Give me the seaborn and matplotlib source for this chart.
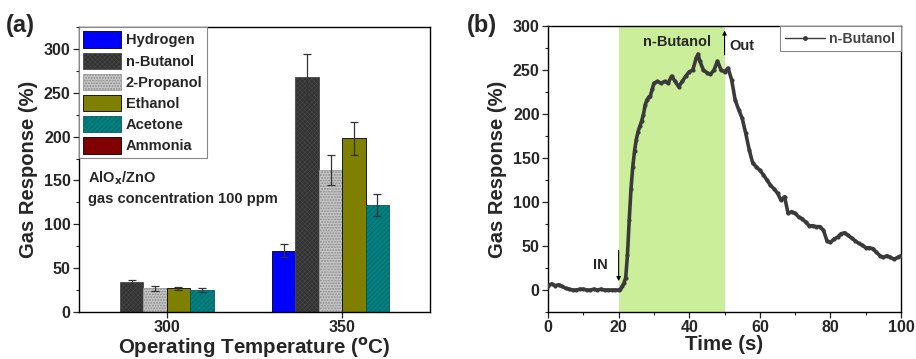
import numpy as np
import pandas as pd
import matplotlib
matplotlib.use("Agg")
import matplotlib.pyplot as plt
import seaborn as sns
from matplotlib.patches import Patch
from matplotlib.lines import Line2D
from matplotlib.ticker import MultipleLocator

# ---------------- data ----------------
temperatures = ["300", "350"]
gases = ["Hydrogen", "n-Butanol", "2-Propanol", "Ethanol", "Acetone", "Ammonia"]
resp_300 = [0, 34, 27, 27, 25, 0]
resp_350 = [70, 268, 162, 198, 122, 0]
err_300 = [0, 3, 3, 2, 2, 0]
err_350 = [7, 26, 17, 19, 12, 0]

time_s = [0, 1, 2, 3, 4, 5, 6, 7, 8, 9, 10, 11, 12, 13, 14, 15, 16, 17, 18, 19, 20,
          20.5, 21, 21.5, 22, 22.5, 23, 23.5, 24, 24.5, 25, 25.5, 26, 26.5, 27, 27.5,
          28, 28.5, 29, 29.5, 30, 31, 32, 33, 34, 35, 36, 37, 38, 39, 40, 41, 42, 42.5,
          43, 44, 45, 46, 47, 48, 49, 50, 51, 52, 53, 54, 55, 56, 57, 58, 59, 60,
          61, 62, 63, 64, 65, 66, 67, 68, 69, 70, 71, 72, 73, 74, 75, 76, 77, 78, 79,
          80, 81, 82, 83, 84, 85, 86, 87, 88, 89, 90, 91, 92, 93, 94, 95, 96, 97, 98,
          99, 100]
response = [5, 7, 5, 6, 4, 2, 1, 0, 0, 1, 1, 0, 0, 1, 0, 1, 0, 0, 0, 0, 0,
            1, 4, 8, 14, 40, 80, 115, 140, 158, 171, 180, 186, 192, 199, 210,
            216, 219, 221, 228, 235, 237, 235, 237, 235, 243, 237, 231, 237, 243, 248, 250, 264, 268,
            260, 250, 247, 245, 250, 260, 250, 248, 252, 239, 216, 205, 195, 178, 159, 144, 140, 136,
            131, 125, 119, 115, 110, 102, 106, 87, 89, 87, 83, 81, 77, 73, 73, 72, 72, 68, 56,
            54, 58, 60, 64, 65, 62, 59, 56, 53, 51, 48, 48, 47, 43, 39, 37, 39, 37, 35,
            37, 39]

colors = ["#0000FF", "#333333", "#C4C4C4", "#808000", "#008080", "#800000"]
hatches = [None, "xxxxxxx", "oooooo", None, "///////", None]
hatch_edge = ["black", "#4a4a4a", "#9a9a9a", "black", "#0a5a5a", "black"]

df = pd.DataFrame({
    "Temperature": np.repeat(temperatures, len(gases)),
    "Gas": gases * 2,
    "Response": resp_300 + resp_350,
    "Err": err_300 + err_350,
})

# ---------------- style ----------------
sns.set_theme(style="ticks")
plt.rcParams["font.family"] = ["Liberation Sans", "DejaVu Sans"]
plt.rcParams["font.weight"] = "bold"
plt.rcParams["axes.labelweight"] = "bold"
plt.rcParams["hatch.linewidth"] = 0.35

fig = plt.figure(figsize=(9.16, 3.59), dpi=100)
ax1 = fig.add_axes([0.0862, 0.1309, 0.3832, 0.7939])
ax2 = fig.add_axes([0.5983, 0.1309, 0.3854, 0.7967])

# ---------------- panel (a) ----------------
sns.barplot(data=df, x="Temperature", y="Response", hue="Gas", hue_order=gases,
            palette=colors, errorbar=None, width=0.8, saturation=1,
            edgecolor="black", linewidth=0.6, ax=ax1, legend=False)

bar_conts = list(ax1.containers)[:len(gases)]
for i, cont in enumerate(bar_conts):
    errs = [err_300[i], err_350[i]]
    vals = [resp_300[i], resp_350[i]]
    xs = []
    for bar in cont:
        xs.append(bar.get_x() + bar.get_width() / 2)
        if hatches[i]:
            bar.set_hatch(hatches[i])
            bar.set_edgecolor(hatch_edge[i])
    for x, v, e in zip(xs, vals, errs):
        if e > 0:
            ax1.errorbar(x, v, yerr=e, color="#333333", capsize=3, elinewidth=0.9,
                         capthick=0.9, fmt="none")

ax1.set_xlim(-0.5, 1.5)
ax1.set_ylim(0, 325)
ax1.yaxis.set_major_locator(MultipleLocator(50))
ax1.yaxis.set_minor_locator(MultipleLocator(25))
ax1.set_xlabel("Operating Temperature ($^{\\mathbf{o}}$C)", fontsize=14.8, labelpad=0)
ax1.set_ylabel("Gas Response (%)", fontsize=14.5, labelpad=4)
ax1.tick_params(axis="both", labelsize=11.5, direction="out", length=4, width=0.9, pad=2)
ax1.tick_params(axis="y", which="minor", length=2.5, width=0.8)
for lbl in ax1.get_xticklabels() + ax1.get_yticklabels():
    lbl.set_fontweight("bold")
for sp in ax1.spines.values():
    sp.set_visible(True)
    sp.set_linewidth(1.0)
    sp.set_color("black")

handles = []
for i, g in enumerate(gases):
    handles.append(Patch(facecolor=colors[i], edgecolor=hatch_edge[i] if hatches[i] else "black",
                         hatch=hatches[i], linewidth=0.6, label=g))
leg1 = ax1.legend(handles=handles, loc="upper left", bbox_to_anchor=(0.0, 1.0),
                  prop={"size": 10.5, "weight": "bold"}, handlelength=2.6, handleheight=1.35,
                  handletextpad=0.3, labelspacing=0.33, borderpad=0.3, borderaxespad=0,
                  frameon=True, fancybox=False, edgecolor="#888888", framealpha=1)
leg1.get_frame().set_linewidth(0.8)

ax1.text(0.026, 153, "AlO$_\\mathbf{x}$/ZnO", fontsize=10.5, fontweight="bold",
         transform=ax1.get_yaxis_transform(), va="center", ha="left")
ax1.text(0.026, 129, "gas concentration 100 ppm", fontsize=10.5, fontweight="bold",
         transform=ax1.get_yaxis_transform(), va="center", ha="left")

# ---------------- panel (b) ----------------
ax2.axvspan(20, 50, color="#CBEE9A", lw=0, zorder=0)
tdf = pd.DataFrame({"Time": time_s, "Response": response})
sns.lineplot(data=tdf, x="Time", y="Response", ax=ax2, color="#3a3a3a", linewidth=2.6,
             marker="o", markersize=3, markeredgewidth=0, label="n-Butanol", zorder=3)
ax2.set_xlim(0, 100)
ax2.set_ylim(-25, 300)
ax2.xaxis.set_major_locator(MultipleLocator(20))
ax2.xaxis.set_minor_locator(MultipleLocator(10))
ax2.yaxis.set_major_locator(MultipleLocator(50))
ax2.yaxis.set_minor_locator(MultipleLocator(25))
ax2.set_xlabel("Time (s)", fontsize=14.8, labelpad=0)
ax2.set_ylabel("Gas Response (%)", fontsize=14.5, labelpad=4)
ax2.tick_params(axis="both", labelsize=11.5, direction="out", length=4, width=0.9, pad=2)
ax2.tick_params(axis="both", which="minor", length=2.5, width=0.8)
for lbl in ax2.get_xticklabels() + ax2.get_yticklabels():
    lbl.set_fontweight("bold")
for sp in ax2.spines.values():
    sp.set_visible(True)
    sp.set_linewidth(1.0)
    sp.set_color("black")

leg2 = ax2.legend(handles=[Line2D([0], [0], color="#3a3a3a", lw=1.0, marker="o", markersize=2.5)],
                  labels=["n-Butanol"], loc="upper right", bbox_to_anchor=(1.0, 1.0),
                  prop={"size": 10.2, "weight": "bold"}, handlelength=2.8, handletextpad=0.3,
                  borderpad=0.4, borderaxespad=0, frameon=True, fancybox=False,
                  edgecolor="#888888", framealpha=1)
leg2.get_frame().set_linewidth(0.8)
for t in leg2.get_texts():
    t.set_color("#444444")

ax2.text(36.5, 282, "n-Butanol", fontsize=10.5, fontweight="bold", ha="center", va="center")
ax2.text(51.3, 277, "Out", fontsize=10.5, fontweight="bold", ha="left", va="center")
ax2.text(17.0, 28, "IN", fontsize=10.5, fontweight="bold", ha="right", va="center")
ax2.annotate("", xy=(50, 298), xytext=(50, 264),
             arrowprops=dict(arrowstyle="-|>", color="black", lw=0.8, mutation_scale=6))
ax2.annotate("", xy=(20, 7), xytext=(20, 48),
             arrowprops=dict(arrowstyle="-|>", color="black", lw=0.8, mutation_scale=6))

fig.text(0.006, 0.93, "(a)", fontsize=17, fontweight="bold", ha="left", va="center")
fig.text(0.510, 0.93, "(b)", fontsize=17, fontweight="bold", ha="left", va="center")

fig.savefig("out.png", dpi=100)
